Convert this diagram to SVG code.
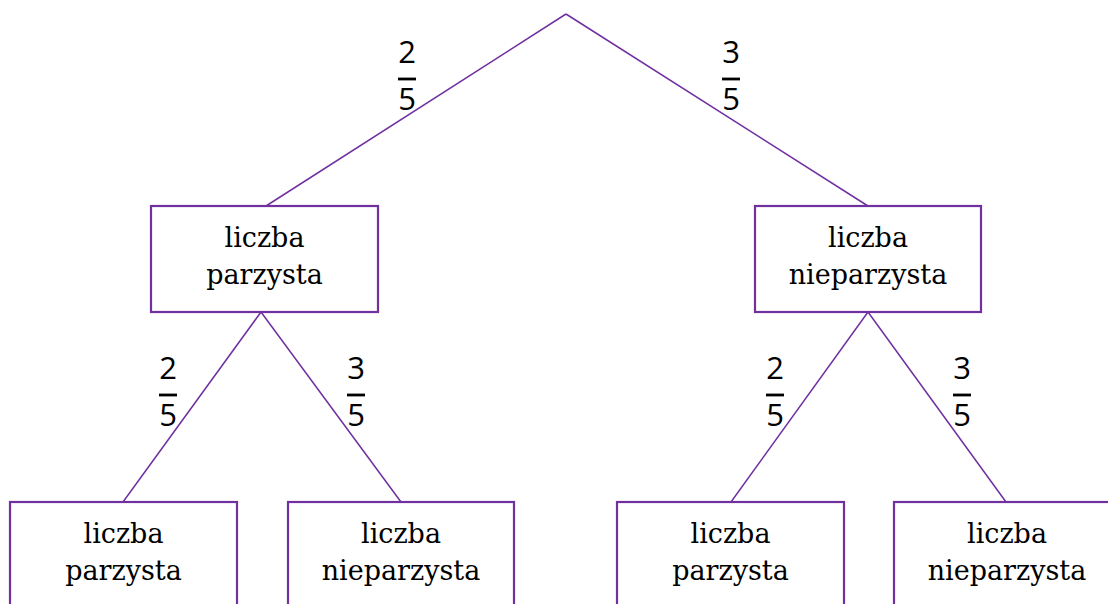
<svg xmlns="http://www.w3.org/2000/svg" width="1108" height="604" viewBox="0 0 1108 604">
<style>
.box{fill:#fff;stroke:#7030a0;stroke-width:2.2}
.ln{stroke:#7030a0;stroke-width:1.5;fill:none}
.t{font-family:"DejaVu Serif","Liberation Serif",serif;font-size:27px;fill:#000;text-anchor:middle}
.f{font-family:"Open Sans","Noto Sans",sans-serif;font-size:31px;fill:#000;text-anchor:middle}
.bar{stroke:#000;stroke-width:2.8}
</style>
<rect width="1108" height="604" fill="#fff"/>
<g id="connectors">
<path class="ln" d="M566 14 L266 206 M566 14 L868 206 M261 312 L123 502 M261 312 L401 502 M868 312 L731 502 M868 312 L1006 502"/>
</g>
<g id="labels">
<g><text class="f" x="407" y="63">2</text><line class="bar" x1="398" y1="79" x2="416" y2="79"/><text class="f" x="407" y="110">5</text></g>
<g><text class="f" x="731" y="63">3</text><line class="bar" x1="722" y1="79" x2="740" y2="79"/><text class="f" x="731" y="110">5</text></g>
<g><text class="f" x="168" y="379">2</text><line class="bar" x1="159" y1="395" x2="177" y2="395"/><text class="f" x="168" y="426">5</text></g>
<g><text class="f" x="356" y="379">3</text><line class="bar" x1="347" y1="395" x2="365" y2="395"/><text class="f" x="356" y="426">5</text></g>
<g><text class="f" x="775" y="379">2</text><line class="bar" x1="766" y1="395" x2="784" y2="395"/><text class="f" x="775" y="426">5</text></g>
<g><text class="f" x="962" y="379">3</text><line class="bar" x1="953" y1="395" x2="971" y2="395"/><text class="f" x="962" y="426">5</text></g>
</g>
<g id="n1"><rect class="box" x="151" y="206" width="227" height="106"/><text class="t" x="264.5" y="247">liczba</text><text class="t" x="264.5" y="284">parzysta</text></g>
<g id="n2"><rect class="box" x="755" y="206" width="226" height="106"/><text class="t" x="868" y="247">liczba</text><text class="t" x="868" y="284">nieparzysta</text></g>
<g id="n3"><rect class="box" x="10" y="502" width="227" height="110"/><text class="t" x="123.5" y="543">liczba</text><text class="t" x="123.5" y="580">parzysta</text></g>
<g id="n4"><rect class="box" x="288" y="502" width="226" height="110"/><text class="t" x="401" y="543">liczba</text><text class="t" x="401" y="580">nieparzysta</text></g>
<g id="n5"><rect class="box" x="617" y="502" width="227" height="110"/><text class="t" x="730.5" y="543">liczba</text><text class="t" x="730.5" y="580">parzysta</text></g>
<g id="n6"><rect class="box" x="894" y="502" width="226" height="110"/><text class="t" x="1007" y="543">liczba</text><text class="t" x="1007" y="580">nieparzysta</text></g>
</svg>
